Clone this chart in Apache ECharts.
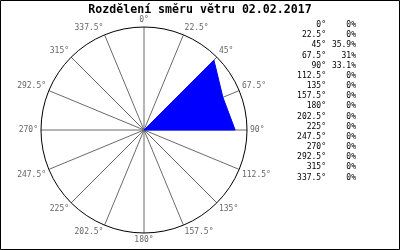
<!DOCTYPE html>
<html><head><meta charset="utf-8">
<script src="https://cdn.jsdelivr.net/npm/echarts@6/dist/echarts.min.js"></script>
<style>html,body{margin:0;padding:0;background:#fff}#c{width:400px;height:250px}</style>
</head><body><div id="c"></div>
<script>
const titleText = 'Rozdělení směru větru 02.02.2017';
const angles = [0, 22.5, 45, 67.5, 90, 112.5, 135, 157.5, 180, 202.5, 225, 247.5, 270, 292.5, 315, 337.5];
const directions = ['0°','22.5°','45°','67.5°','90°','112.5°','135°','157.5°','180°','202.5°','225°','247.5°','270°','292.5°','315°','337.5°'];
const percents = [0, 0, 35.9, 31, 33.1, 0, 0, 0, 0, 0, 0, 0, 0, 0, 0, 0];
const percentLabels = ['0%','0%','35.9%','31%','33.1%','0%','0%','0%','0%','0%','0%','0%','0%','0%','0%','0%'];
const radiusMax = 37.4;

const chart = echarts.init(document.getElementById('c'), null, {renderer:'canvas'});
const mono = 'DejaVu Sans Mono';
const graphics = [
  {type:'rect', shape:{x:0.5,y:0.5,width:399,height:249}, style:{fill:'none', stroke:'#000', lineWidth:1}, silent:true}
];
directions.forEach((d,i)=>{
  const y = 25 + i*10.17;
  graphics.push({type:'text', x:326, y:y, style:{text:d, fill:'#000', font:'8px '+mono, textAlign:'right', textVerticalAlign:'middle'}});
  graphics.push({type:'text', x:356, y:y, style:{text:percentLabels[i], fill:'#000', font:'8px '+mono, textAlign:'right', textVerticalAlign:'middle'}});
});
chart.setOption({
  animation:false,
  title:{text:titleText, left:200, top:3.5, padding:0, textAlign:'center', textStyle:{fontFamily:mono, fontWeight:'bold', fontSize:11.6, color:'#000'}},
  polar:{center:[144,130], radius:103},
  angleAxis:{type:'value', min:0, max:360, interval:22.5, startAngle:90, clockwise:true,
    axisLine:{show:true, lineStyle:{color:'#000', width:1}},
    axisTick:{show:false},
    axisLabel:{show:true, margin:3, color:'#666', fontFamily:mono, fontSize:8, formatter:v=>v+'°'},
    splitLine:{show:true, lineStyle:{color:'#6a6a6a', width:1}}
  },
  radiusAxis:{type:'value', min:0, max:radiusMax, axisLine:{show:false}, axisTick:{show:false}, axisLabel:{show:false}, splitLine:{show:false}},
  series:[{type:'line', coordinateSystem:'polar', data:percents.map((p,i)=>[p, angles[i]]), symbol:'none',
    lineStyle:{color:'#0000ff', width:1}, areaStyle:{color:'#0000ff', opacity:1}}],
  graphic:graphics
});
</script></body></html>
